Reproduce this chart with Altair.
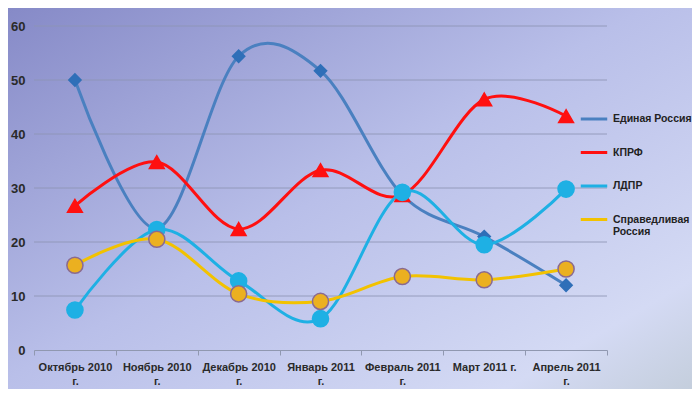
import altair as alt
import pandas as pd

months = ["Октябрь 2010 г.", "Ноябрь 2010 г.", "Декабрь 2010 г.", "Январь 2011 г.",
          "Февраль 2011 г.", "Март 2011 г.", "Апрель 2011 г."]
parties = ["Единая Россия", "КПРФ", "ЛДПР", "Справедливая Россия"]
er = [50.0, 22.5, 54.4, 51.7, 28.7, 21.0, 12.0]
kprf = [26.7, 34.8, 22.4, 33.3, 28.7, 46.4, 43.3]
ldpr = [7.4, 22.3, 12.8, 5.8, 29.2, 19.5, 29.8]
sr = [15.7, 20.5, 10.4, 9.0, 13.6, 13.0, 15.0]
series = [er, kprf, ldpr, sr]
y_ticks = [0, 10, 20, 30, 40, 50, 60]

line_colors = ["#4a80c0", "#ff1010", "#1eb0e4", "#f2c200"]
marker_fill = ["#2f6fb8", "#ff1010", "#1eb0e4", "#ebb020"]
marker_stroke = ["#2f6fb8", "#ff1010", "#1eb0e4", "#8a6a90"]
shapes = ["diamond", "triangle-up", "circle", "circle"]
sizes = [150, 220, 260, 260]

rows = []
for p, vals in zip(parties, series):
    for i, (m, v) in enumerate(zip(months, vals)):
        rows.append({"party": p, "month": m, "order": i, "value": v})
df = pd.DataFrame(rows)

W, H = 573, 324
PAD_L, PAD_T = 26, 18
TOT_W, TOT_H = 684, 381

x_enc = alt.X("month:N", sort=months, title=None,
              scale=alt.Scale(paddingInner=0, paddingOuter=0),
              axis=alt.Axis(labelExpr="length(datum.label) > 12 ? [slice(datum.label, 0, -3), 'г.'] : datum.label",
                            labelAngle=0, labelFont="Liberation Sans", labelFontWeight="bold",
                            labelFontSize=11, labelColor="#2a2a2a", labelPadding=6,
                            tickBand="extent", tickColor="#9098b0", tickSize=5,
                            domainColor="#9098b0", labelLineHeight=14, labelBaseline="top",
                            zindex=1))
y_axis = alt.Axis(values=y_ticks, domain=False, ticks=False, grid=False,
                  labelFont="Liberation Sans",
                  labelFontWeight="bold", labelFontSize=13, labelColor="#2a2a2a",
                  labelPadding=9, zindex=1)
y_scale = alt.Scale(domain=[0, 60], nice=False)
y_enc = alt.Y("value:Q", title=None, scale=y_scale, axis=y_axis)

bg = alt.Chart(pd.DataFrame({"a": [0]})).mark_rect(
    clip=False,
    fill=alt.Gradient(gradient="linear", x1=0, y1=0, x2=1, y2=1,
                      stops=[alt.GradientStop(offset=0, color="#8488c6"),
                             alt.GradientStop(offset=0.45, color="#b9bfe9"),
                             alt.GradientStop(offset=0.8, color="#d4daf4"),
                             alt.GradientStop(offset=0.93, color="#c4cedc"),
                             alt.GradientStop(offset=1, color="#8e9c8a")])
).encode(x=alt.value(-PAD_L - 8), x2=alt.value(700), y=alt.value(-PAD_T - 8), y2=alt.value(400))

grid = alt.Chart(pd.DataFrame({"v": y_ticks[1:]})).mark_rule(
    color="#8e94b4", strokeWidth=1, opacity=0.85
).encode(y=alt.Y("v:Q", title=None, scale=y_scale, axis=y_axis))

lines = alt.Chart(df).mark_line(interpolate="cardinal", strokeWidth=3).encode(
    x=x_enc, y=y_enc, order="order:Q",
    color=alt.Color("party:N", sort=parties,
                    scale=alt.Scale(domain=parties, range=line_colors),
                    legend=alt.Legend(title=None, orient="none", legendX=545, legendY=78,
                                      symbolType="stroke", symbolStrokeWidth=3, symbolSize=700,
                                      labelFont="Liberation Sans", labelFontWeight="bold",
                                      labelFontSize=10.5, labelColor="#222222", rowPadding=12.5,
                                      labelOffset=4, zindex=1,
                                      labelExpr="datum.label == 'Справедливая Россия' ? ['Справедливая', 'Россия'] : datum.label")))

layers = [bg, grid, lines]
for p, f, s, sh, sz in zip(parties, marker_fill, marker_stroke, shapes, sizes):
    layers.append(alt.Chart(df[df.party == p]).mark_point(
        shape=sh, size=sz, filled=True, fill=f, stroke=s, strokeWidth=1.5, opacity=1
    ).encode(x=x_enc, y=y_enc))

chart = alt.layer(*layers).properties(
    width=W, height=H,
    autosize=alt.AutoSizeParams(type="none"),
    padding={"left": PAD_L, "top": PAD_T, "right": TOT_W - PAD_L - W, "bottom": TOT_H - PAD_T - H},
    background="#c0c5ea"
).configure_view(stroke=None)

chart.save("out.html", embed_options={"renderer": "svg", "actions": False})
